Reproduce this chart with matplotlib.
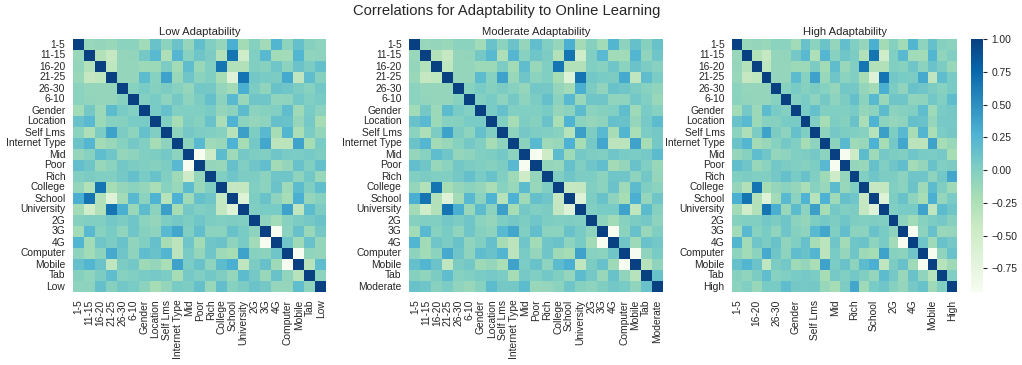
import numpy as np
import matplotlib
matplotlib.use("Agg")
import matplotlib.pyplot as plt
import seaborn as sns

features = ['1-5', '11-15', '16-20', '21-25', '26-30', '6-10', 'Gender', 'Location', 'Self Lms',
            'Internet Type', 'Mid', 'Poor', 'Rich', 'College', 'School', 'University', '2G', '3G',
            '4G', 'Computer', 'Mobile', 'Tab']

# upper triangle of the shared feature correlations, one list per row (diagonal left out)
r_1_5 = [-0.12, -0.10, -0.13, -0.05, -0.05, -0.17, 0.13, -0.05, 0.12, -0.10, 0.17, 0.00, -0.10, 0.30, -0.18, -0.02, -0.17, 0.25, -0.07, 0.15, -0.02]
r_11_15 = [-0.28, -0.40, -0.10, -0.09, 0.07, 0.22, -0.25, 0.24, -0.03, 0.10, 0.03, -0.27, 0.67, -0.50, 0.00, 0.22, -0.17, -0.17, 0.25, -0.08]
r_16_20 = [-0.35, -0.10, -0.10, -0.14, -0.14, 0.03, -0.18, 0.18, -0.12, 0.00, 0.67, -0.27, -0.27, 0.00, -0.03, 0.10, -0.05, 0.12, 0.03]
r_21_25 = [-0.10, -0.10, 0.20, -0.03, 0.38, -0.13, 0.10, -0.05, 0.00, -0.20, -0.65, 0.67, 0.08, 0.05, 0.03, 0.33, -0.37, 0.18]
r_26_30 = [-0.03, 0.05, -0.02, 0.03, -0.03, -0.10, 0.08, 0.07, -0.10, -0.18, 0.30, 0.03, -0.08, 0.13, 0.10, 0.03, -0.03]
r_6_10 = [-0.01, 0.05, -0.07, 0.07, -0.07, 0.03, 0.15, -0.05, 0.22, -0.12, 0.10, 0.10, -0.08, -0.06, 0.08, 0.00]
r_gender = [0.05, 0.15, 0.00, 0.00, 0.00, 0.05, -0.10, -0.05, 0.20, -0.05, -0.02, 0.00, 0.18, -0.15, 0.05]
r_location = [0.00, -0.20, 0.02, -0.02, 0.13, -0.22, 0.27, -0.05, -0.10, -0.07, 0.15, 0.13, -0.10, 0.06]
r_self = [-0.07, 0.07, 0.02, 0.00, -0.03, -0.30, 0.40, 0.02, 0.22, -0.20, 0.25, -0.22, 0.04]
r_inet = [-0.05, 0.22, -0.15, -0.12, 0.28, -0.20, 0.07, 0.35, -0.33, -0.33, 0.38, -0.20]
r_mid = [-0.92, -0.45, 0.20, -0.15, 0.07, 0.02, 0.00, 0.10, 0.05, 0.04, 0.06]
r_poor = [-0.10, -0.12, 0.15, 0.00, 0.10, 0.17, -0.18, -0.10, 0.13, 0.00]
r_rich = [0.00, 0.10, 0.03, 0.02, -0.05, 0.10, 0.10, -0.06, 0.08]
r_college = [-0.40, -0.38, 0.00, -0.05, 0.12, -0.15, 0.20, 0.01]
r_school = [-0.65, 0.02, 0.13, -0.06, -0.20, 0.30, -0.10]
r_university = [0.00, 0.05, 0.05, 0.38, -0.37, 0.20]
r_2g = [-0.07, -0.17, -0.03, 0.03, 0.07]
r_3g = [-0.93, -0.05, 0.14, -0.12]
r_4g = [0.10, -0.15, 0.13]
r_computer = [-0.92, -0.08]
r_mobile = [-0.30]

upper_rows = [r_1_5, r_11_15, r_16_20, r_21_25, r_26_30, r_6_10, r_gender, r_location, r_self,
              r_inet, r_mid, r_poor, r_rich, r_college, r_school, r_university, r_2g, r_3g,
              r_4g, r_computer, r_mobile]

low_corr = [-0.07, -0.07, 0.15, -0.02, 0.08, 0.05, -0.05, -0.20, -0.10, 0.05, 0.02, 0.15, -0.12, 0.17, -0.03, 0.03, 0.12, 0.07, -0.10, -0.10, 0.18, -0.07]
moderate_corr = [0.13, 0.10, -0.04, 0.04, -0.08, -0.12, -0.03, 0.20, 0.07, 0.07, 0.20, -0.13, -0.10, -0.05, 0.10, -0.02, -0.06, 0.01, 0.08, 0.05, -0.08, 0.13]
high_corr = [-0.05, 0.00, -0.13, 0.05, 0.05, 0.18, 0.07, 0.06, 0.07, -0.13, -0.20, 0.03, 0.35, -0.15, 0.05, 0.10, -0.02, -0.10, 0.07, 0.13, -0.15, 0.00]

levels = ['Low', 'Moderate', 'High']
level_corr = [low_corr, moderate_corr, high_corr]


def build_matrix(last_row):
    n = len(features) + 1
    m = np.eye(n)
    for i, row in enumerate(upper_rows):
        m[i, i + 1:len(features)] = row
    m[:len(features), len(features)] = last_row
    return m + m.T - np.eye(n)


sns.set_theme(style='ticks')
plt.rcParams['font.family'] = ['Liberation Sans', 'DejaVu Sans']

W, H = 1022, 365
fig = plt.figure(figsize=(W / 100, H / 100), dpi=100)

# pixel boxes of the three panels
lefts = [73, 409.3, 732.3]
rights = [326.3, 662.7, 957]
top, bottom = 39, 292

for i, level in enumerate(levels):
    ax = fig.add_axes([lefts[i] / W, 1 - bottom / H, (rights[i] - lefts[i]) / W, (bottom - top) / H])
    labels = features + [level]
    data = build_matrix(level_corr[i])
    if i == 2:
        cax = fig.add_axes([971 / W, 1 - bottom / H, 12 / W, (bottom - top) / H])
        sns.heatmap(data, cmap='GnBu', ax=ax, cbar_ax=cax, xticklabels=2, yticklabels=labels)
        ax.set_xticks(np.arange(0, len(labels), 2) + 0.5, labels[::2])
        cax.tick_params(labelsize=7.4, length=3, width=0.8, pad=3, colors='.15')
    else:
        sns.heatmap(data, cmap='GnBu', ax=ax, cbar=False, xticklabels=labels, yticklabels=labels)
    ax.tick_params(axis='both', labelsize=7.4, length=0, pad=5.5, colors='.15')
    ax.tick_params(axis='x', rotation=90)
    ax.tick_params(axis='y', rotation=0)
    ax.set_title(f'{level} Adaptability', fontsize=8.1, color='.15', pad=3)

fig.suptitle('Correlations for Adaptability to Online Learning', fontsize=10.6, color='.15', x=0.496, y=0.99)
fig.savefig('out.png', dpi=100)
